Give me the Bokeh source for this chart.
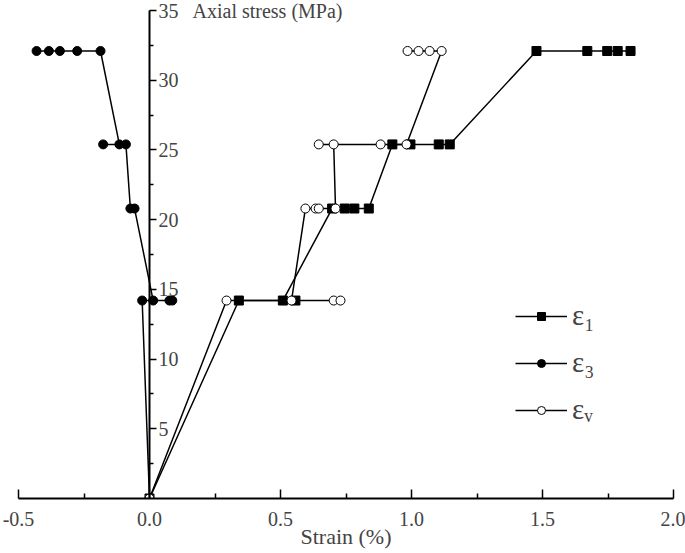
from bokeh.plotting import figure
from bokeh.models import (Range1d, LinearAxis, FixedTicker, PrintfTickFormatter,
                          Label, Legend, LegendItem)
from bokeh.embed import file_html
from bokeh.resources import INLINE

# ---- data (strain in %, axial stress in MPa) ----
strain_e1 = [0, 0.341, 0.557, 0.509, 0.697, 0.745, 0.782, 0.837,
             0.927, 0.996, 1.104, 1.146, 1.477, 1.671, 1.747, 1.787, 1.836]
stress_e1 = [0, 14.2, 14.2, 14.2, 20.8, 20.8, 20.8, 20.8,
             25.4, 25.4, 25.4, 25.4, 32.1, 32.1, 32.1, 32.1, 32.1]

strain_e3 = [0, -0.028, 0.076, 0.087, 0.014, -0.057, -0.073,
             -0.09, -0.177, -0.115, -0.187, -0.276, -0.342, -0.384, -0.431]
stress_e3 = [0, 14.2, 14.2, 14.2, 14.2, 20.8, 20.8,
             25.4, 25.4, 25.4, 32.1, 32.1, 32.1, 32.1, 32.1]

strain_ev = [0, 0.294, 0.703, 0.729, 0.542, 0.595, 0.634, 0.646, 0.71,
             0.703, 0.646, 0.882, 0.981, 1.115, 1.069, 1.027, 0.985]
stress_ev = [0, 14.2, 14.2, 14.2, 14.2, 20.8, 20.8, 20.8, 20.8,
             25.4, 25.4, 25.4, 25.4, 32.1, 32.1, 32.1, 32.1]

x_ticks = [-0.5, 0.0, 0.5, 1.0, 1.5, 2.0]
x_minor = [-0.25, 0.25, 0.75, 1.25, 1.75]
y_ticks = [5, 10, 15, 20, 25, 30, 35]
y_minor = [2.5, 7.5, 12.5, 17.5, 22.5, 27.5, 32.5]

labels = ["ε₁", "ε₃", "εᵥ"]
x_title = "Strain (%)"
y_title = "Axial stress (MPa)"

FONT = "Liberation Serif"

p = figure(width=685, height=553,
           x_range=Range1d(-0.5, 2.0), y_range=Range1d(0, 35.65),
           output_backend="svg", toolbar_location=None,
           y_axis_location=None,
           min_border_left=18, min_border_right=12,
           min_border_top=1, min_border_bottom=55)
p.outline_line_color = None
p.xgrid.visible = False
p.ygrid.visible = False

# x axis (bottom)
xa = p.xaxis[0]
xa.ticker = FixedTicker(ticks=x_ticks, minor_ticks=x_minor)
xa.formatter = PrintfTickFormatter(format="%.1f")
xa.axis_label = x_title
xa.axis_label_text_font = FONT
xa.axis_label_text_font_size = "22px"
xa.axis_label_text_font_style = "normal"
xa.axis_label_standoff = -5
xa.major_label_text_font = FONT
xa.major_label_text_font_size = "20px"
xa.major_label_standoff = 13
xa.major_tick_in = 9
xa.major_tick_out = 0
xa.minor_tick_in = 5
xa.minor_tick_out = 0
xa.axis_line_width = 2
xa.major_tick_line_width = 1.5
xa.minor_tick_line_width = 1.5

# y axis drawn at strain = 0
ya = LinearAxis(fixed_location=0, bounds=(0, 35),
                ticker=FixedTicker(ticks=y_ticks, minor_ticks=y_minor),
                major_tick_in=0, major_tick_out=7,
                minor_tick_in=0, minor_tick_out=4,
                major_label_standoff=2,
                axis_line_width=2, major_tick_line_width=1.5,
                minor_tick_line_width=1.5,
                major_label_text_font=FONT,
                major_label_text_font_size="20px")
p.add_layout(ya, "right")

p.add_layout(Label(x=0, y=35, x_offset=43, text=y_title,
                   text_font=FONT, text_font_size="20px",
                   text_baseline="middle"))

# lines first
l3 = p.line(strain_e3, stress_e3, line_color="black", line_width=1.5)
l1 = p.line(strain_e1, stress_e1, line_color="black", line_width=1.5)
lv = p.line(strain_ev, stress_ev, line_color="black", line_width=1.5)
# markers
s3 = p.scatter(strain_e3, stress_e3, marker="circle", size=9,
               fill_color="black", line_color="black")
s1 = p.scatter(strain_e1, stress_e1, marker="square", size=9,
               fill_color="black", line_color="black")
sv = p.scatter(strain_ev, stress_ev, marker="circle", size=9,
               fill_color="white", line_color="black", line_width=1)

legend = Legend(items=[LegendItem(label=labels[0], renderers=[l1, s1]),
                       LegendItem(label=labels[1], renderers=[l3, s3]),
                       LegendItem(label=labels[2], renderers=[lv, sv])],
                location=(497, 72), orientation="vertical",
                glyph_width=52, glyph_height=20, label_standoff=5,
                spacing=14, padding=0, margin=0,
                border_line_color=None, background_fill_alpha=0,
                label_text_font=FONT, label_text_font_size="29px")
p.add_layout(legend)

open("out.html", "w").write(file_html(p, INLINE))
